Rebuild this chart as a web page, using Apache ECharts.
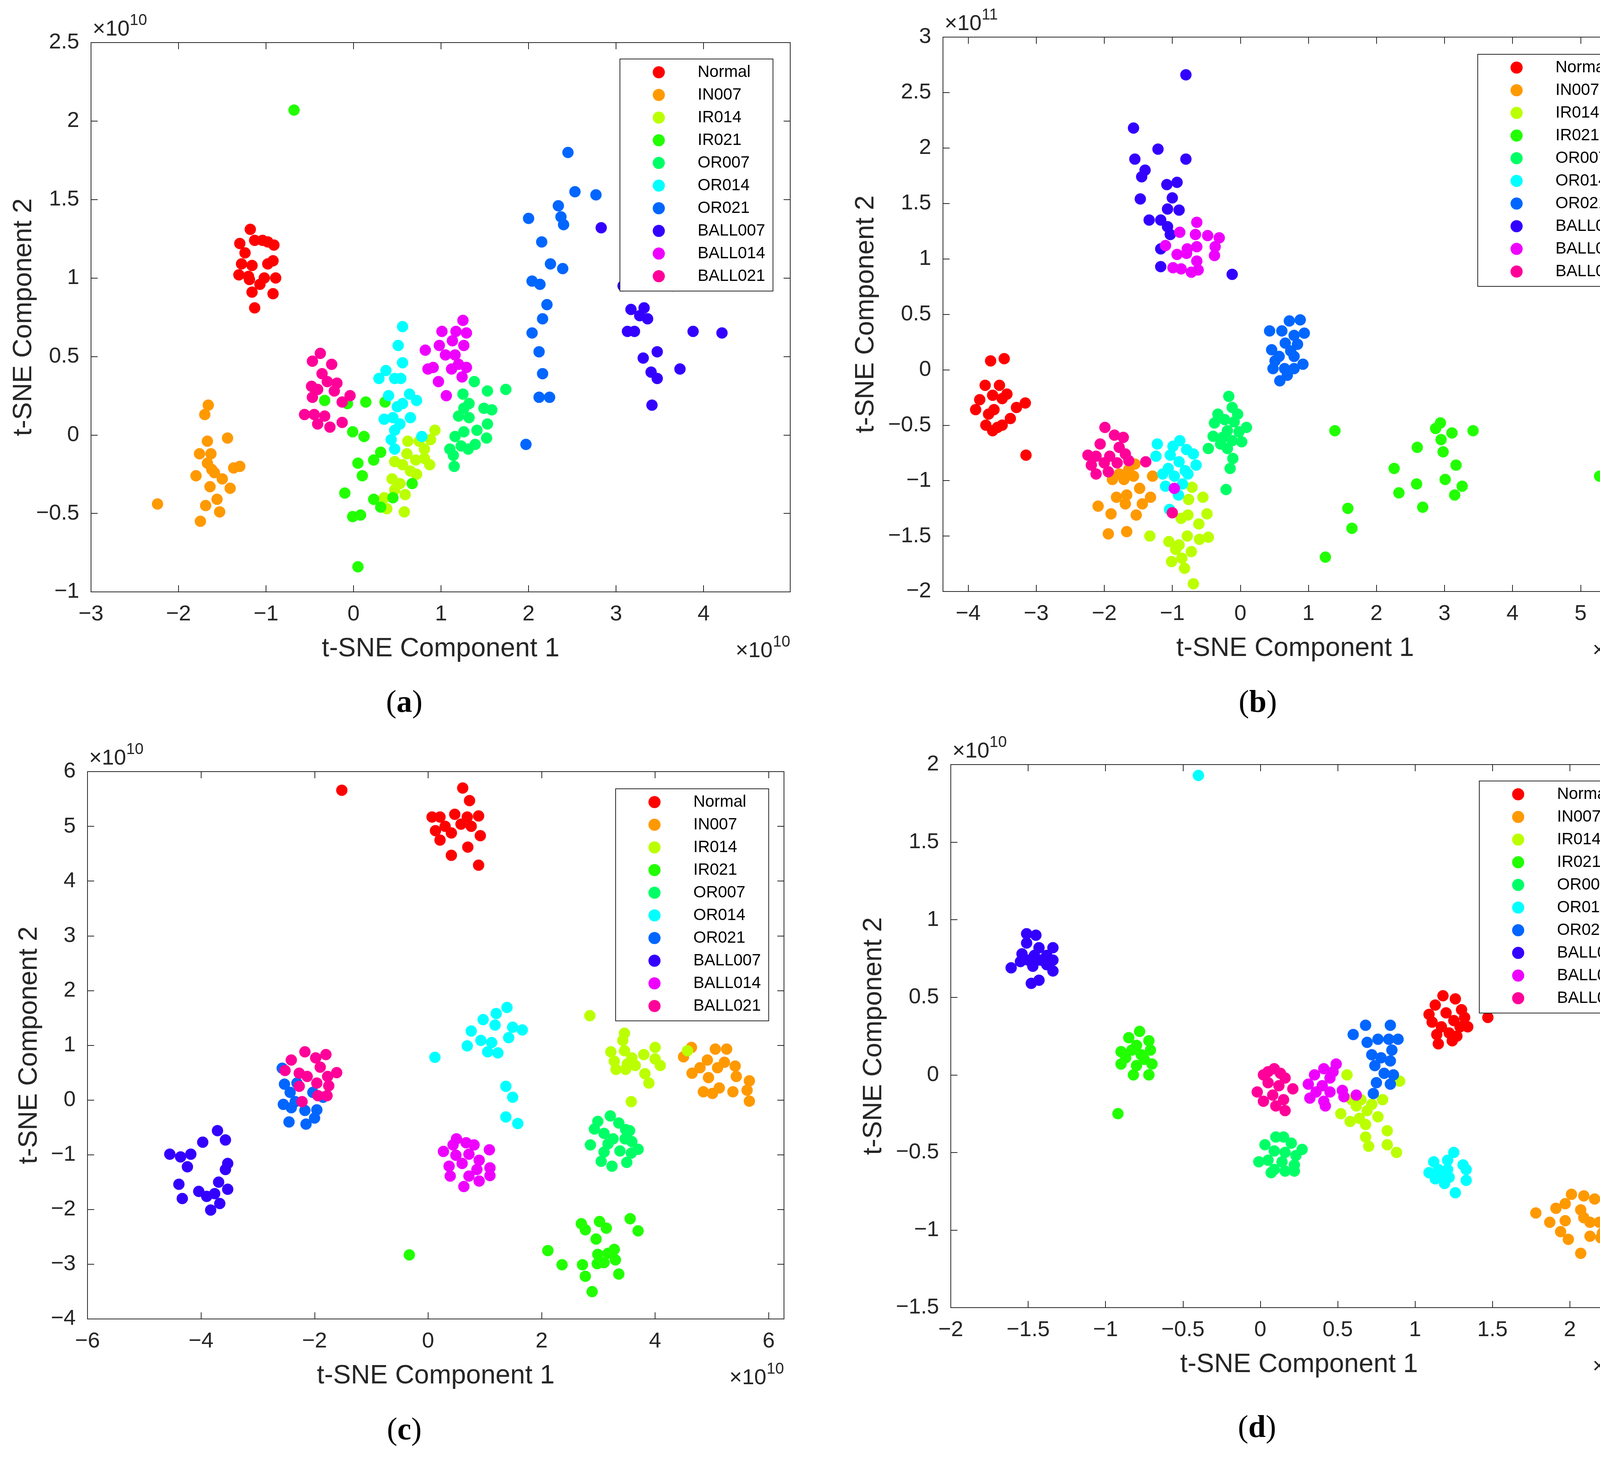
<!DOCTYPE html>
<html>
<head>
<meta charset="utf-8">
<script src="https://cdn.jsdelivr.net/npm/echarts@6/dist/echarts.min.js"></script>
<style>
  html, body { margin: 0; padding: 0; background: #fff; overflow: hidden; }
  #chart { width: 4244px; height: 3737px; }
</style>
</head>
<body>
<div id="chart"></div>
<script>
// classes and colours (same in every panel)
var classNames = ['Normal', 'IN007', 'IR014', 'IR021', 'OR007', 'OR014', 'OR021', 'BALL007', 'BALL014', 'BALL021'];
var classColors = ['#ff0000', '#ff9900', '#bbff00', '#22ff00', '#00ff66', '#00ffff', '#0066ff', '#3300ff', '#ee00ff', '#ff0099'];

// ---- panel (a), units of 1e10 ----
var aNormal = [[-1.18,1.31],[-1.30,1.22],[-1.24,1.16],[-1.13,1.24],[-1.04,1.24],[-0.91,1.21],[-1.28,1.09],[-1.16,1.08],[-0.98,1.09],[-0.92,1.11],[-1.31,1.02],[-1.19,0.99],[-1.02,1.00],[-0.89,1.00],[-1.07,0.96],[-1.16,0.91],[-0.92,0.90],[-1.13,0.81],[-1.20,1.01],[-0.98,1.23]];
var aIN007 = [[-2.24,-0.44],[-1.66,0.19],[-1.70,0.13],[-1.44,-0.02],[-1.67,-0.04],[-1.63,-0.12],[-1.76,-0.12],[-1.67,-0.18],[-1.30,-0.20],[-1.37,-0.21],[-1.80,-0.26],[-1.59,-0.24],[-1.50,-0.28],[-1.64,-0.33],[-1.41,-0.34],[-1.56,-0.41],[-1.69,-0.45],[-1.53,-0.49],[-1.75,-0.55],[-1.62,-0.22]];
var aIR014 = [[0.93,0.03],[0.88,-0.03],[0.75,-0.04],[0.81,-0.09],[0.61,-0.12],[0.47,-0.17],[0.56,-0.19],[0.65,-0.23],[0.72,-0.25],[0.81,-0.15],[0.87,-0.19],[0.44,-0.28],[0.53,-0.31],[0.47,-0.35],[0.59,-0.38],[0.38,-0.47],[0.58,-0.49],[0.35,-0.40],[0.71,-0.16],[0.62,-0.04]];
var aIR021 = [[-0.68,2.07],[-0.33,0.22],[-0.07,0.20],[0.14,0.21],[0.36,0.21],[-0.01,0.02],[0.12,-0.01],[0.05,-0.18],[0.23,-0.16],[0.31,-0.11],[0.10,-0.26],[-0.10,-0.37],[0.23,-0.41],[0.31,-0.46],[-0.01,-0.52],[0.08,-0.51],[0.05,-0.84],[0.45,-0.40],[0.67,-0.31]];
var aOR007 = [[1.38,0.34],[1.74,0.29],[1.53,0.28],[1.25,0.26],[1.32,0.20],[1.26,0.17],[1.49,0.17],[1.58,0.16],[1.20,0.12],[1.32,0.11],[1.53,0.07],[1.41,0.03],[1.26,0.02],[1.16,-0.01],[1.52,-0.02],[1.39,-0.06],[1.23,-0.07],[1.10,-0.09],[1.31,-0.09],[1.14,-0.13],[1.15,-0.20]];
var aOR014 = [[0.56,0.69],[0.51,0.57],[0.56,0.46],[0.29,0.36],[0.37,0.41],[0.47,0.36],[0.54,0.36],[0.40,0.25],[0.64,0.26],[0.72,0.22],[0.56,0.20],[0.50,0.18],[0.35,0.10],[0.45,0.11],[0.65,0.11],[0.53,0.07],[0.47,0.03],[0.43,-0.03],[0.47,-0.09],[0.78,-0.01]];
var aOR021 = [[2.45,1.80],[2.53,1.55],[2.77,1.53],[2.34,1.46],[2.37,1.39],[2.40,1.34],[2.00,1.38],[2.15,1.23],[2.25,1.09],[2.39,1.06],[2.04,0.98],[2.13,0.96],[2.21,0.83],[2.16,0.74],[2.04,0.65],[2.12,0.53],[2.16,0.39],[2.12,0.24],[2.24,0.24],[1.97,-0.06]];
var aBALL007 = [[2.83,1.32],[3.08,0.95],[3.65,0.95],[3.17,0.80],[3.32,0.81],[3.27,0.76],[3.36,0.74],[3.13,0.66],[3.21,0.66],[3.88,0.66],[4.21,0.65],[3.47,0.53],[3.31,0.49],[3.40,0.40],[3.47,0.36],[3.73,0.42],[3.41,0.19]];
var aBALL014 = [[1.25,0.73],[1.01,0.66],[1.17,0.66],[1.29,0.65],[0.98,0.57],[1.13,0.60],[1.26,0.57],[0.82,0.54],[1.05,0.51],[1.16,0.51],[1.29,0.43],[1.20,0.45],[0.91,0.43],[0.85,0.42],[1.12,0.42],[1.24,0.37],[0.97,0.34],[1.06,0.25]];
var aBALL021 = [[-0.38,0.52],[-0.47,0.47],[-0.25,0.45],[-0.36,0.39],[-0.48,0.31],[-0.30,0.34],[-0.19,0.33],[-0.41,0.29],[-0.22,0.28],[-0.47,0.24],[-0.13,0.21],[-0.04,0.25],[-0.56,0.13],[-0.45,0.13],[-0.33,0.12],[-0.41,0.07],[-0.13,0.08],[-0.27,0.05]];
var aXTicks = [-3, -2, -1, 0, 1, 2, 3, 4];
var aYTicks = [-1, -0.5, 0, 0.5, 1, 1.5, 2, 2.5];

// ---- panel (b), units of 1e11 ----
var bNormal = [[-3.67,0.08],[-3.47,0.10],[-3.75,-0.14],[-3.54,-0.14],[-3.83,-0.27],[-3.64,-0.23],[-3.43,-0.22],[-3.50,-0.26],[-3.89,-0.36],[-3.62,-0.36],[-3.29,-0.34],[-3.16,-0.30],[-3.70,-0.40],[-3.38,-0.44],[-3.74,-0.50],[-3.50,-0.50],[-3.64,-0.55],[-3.57,-0.52],[-3.15,-0.77]];
var bIN007 = [[-1.55,-0.85],[-1.64,-0.90],[-1.78,-0.94],[-1.88,-0.99],[-1.71,-0.99],[-1.29,-0.96],[-1.48,-1.07],[-1.67,-1.13],[-1.82,-1.15],[-1.32,-1.15],[-1.44,-1.21],[-1.69,-1.21],[-2.09,-1.23],[-1.90,-1.30],[-1.53,-1.31],[-1.94,-1.48],[-1.67,-1.46],[-1.57,-0.96]];
var bIR014 = [[-0.71,-1.06],[-0.55,-1.15],[-0.76,-1.17],[-0.49,-1.30],[-0.77,-1.31],[-0.87,-1.34],[-0.61,-1.39],[-1.33,-1.50],[-0.78,-1.50],[-0.47,-1.51],[-0.60,-1.53],[-1.05,-1.55],[-0.90,-1.58],[-0.72,-1.64],[-1.01,-1.73],[-0.86,-1.70],[-0.82,-1.79],[-0.69,-1.93],[-0.95,-1.62]];
var bIR021 = [[1.39,-0.55],[2.26,-0.89],[2.33,-1.11],[1.58,-1.25],[1.64,-1.43],[1.25,-1.69],[2.60,-0.70],[2.59,-1.03],[2.68,-1.24],[2.87,-0.53],[2.94,-0.48],[2.95,-0.63],[2.98,-0.74],[3.11,-0.57],[3.01,-0.99],[3.17,-0.86],[3.26,-1.05],[3.15,-1.13],[3.42,-0.55],[5.28,-0.96]];
var bOR007 = [[-0.17,-0.24],[-0.12,-0.34],[-0.33,-0.40],[-0.04,-0.40],[-0.23,-0.45],[-0.38,-0.48],[-0.09,-0.47],[0.09,-0.52],[-0.19,-0.55],[-0.02,-0.56],[-0.40,-0.60],[-0.26,-0.61],[-0.12,-0.64],[0.02,-0.65],[-0.47,-0.71],[-0.19,-0.71],[-0.11,-0.80],[-0.15,-0.89],[-0.21,-1.08],[-0.29,-0.67]];
var bOR014 = [[-1.22,-0.67],[-0.89,-0.64],[-0.99,-0.69],[-0.79,-0.72],[-1.03,-0.77],[-1.24,-0.78],[-0.69,-0.76],[-0.90,-0.83],[-0.65,-0.86],[-1.06,-0.89],[-0.81,-0.91],[-1.14,-0.94],[-0.97,-0.96],[-0.77,-0.94],[-1.10,-1.05],[-0.85,-1.03],[-0.91,-1.13],[-1.04,-1.26]];
var bOR021 = [[0.72,0.44],[0.88,0.45],[0.43,0.35],[0.61,0.35],[0.94,0.33],[0.79,0.31],[0.66,0.24],[0.84,0.23],[0.46,0.18],[0.74,0.17],[0.57,0.12],[0.79,0.12],[0.51,0.08],[0.92,0.05],[0.48,0.01],[0.65,0.01],[0.79,0.01],[0.69,-0.05],[0.58,-0.10]];
var bBALL007 = [[-0.80,2.66],[-1.57,2.18],[-1.55,1.90],[-1.21,1.99],[-0.80,1.90],[-1.40,1.80],[-1.45,1.74],[-1.08,1.67],[-0.93,1.69],[-1.00,1.55],[-1.47,1.54],[-1.07,1.45],[-0.90,1.44],[-1.34,1.35],[-1.17,1.35],[-1.07,1.29],[-1.03,1.22],[-1.17,1.09],[-1.17,0.93],[-0.12,0.86]];
var bBALL014 = [[-0.64,1.33],[-0.89,1.24],[-0.66,1.22],[-0.48,1.21],[-0.31,1.19],[-1.10,1.12],[-0.78,1.09],[-0.64,1.11],[-0.37,1.11],[-0.93,1.04],[-0.79,1.05],[-0.38,1.03],[-0.99,0.92],[-0.87,0.91],[-0.64,0.98],[-0.72,0.88],[-0.62,0.90],[-0.97,-1.07]];
var bBALL021 = [[-1.99,-0.52],[-1.85,-0.59],[-1.72,-0.61],[-2.06,-0.67],[-1.78,-0.70],[-2.24,-0.77],[-2.12,-0.78],[-1.92,-0.78],[-1.69,-0.76],[-2.19,-0.86],[-2.00,-0.84],[-1.81,-0.84],[-1.64,-0.82],[-1.39,-0.83],[-2.12,-0.94],[-1.94,-0.92],[-1.00,-1.29]];
var bXTicks = [-4, -3, -2, -1, 0, 1, 2, 3, 4, 5];
var bYTicks = [-2, -1.5, -1, -0.5, 0, 0.5, 1, 1.5, 2, 2.5, 3];

// ---- panel (c), units of 1e10 ----
var cNormal = [[-1.52,5.66],[0.61,5.70],[0.73,5.47],[0.07,5.17],[0.21,5.17],[0.47,5.22],[0.69,5.17],[0.89,5.19],[0.13,4.92],[0.30,5.00],[0.58,5.04],[0.76,5.00],[0.41,4.88],[0.92,4.83],[0.21,4.75],[0.41,4.47],[0.70,4.62],[0.89,4.29]];
var cIN007 = [[4.64,0.96],[4.50,0.79],[5.06,0.93],[5.26,0.93],[4.92,0.73],[5.22,0.69],[4.79,0.59],[5.10,0.59],[5.41,0.62],[4.65,0.49],[4.94,0.41],[5.43,0.43],[5.66,0.35],[5.13,0.22],[4.85,0.15],[5.01,0.12],[5.37,0.15],[5.62,0.18],[5.66,-0.02]];
var cIR014 = [[2.85,1.54],[3.46,1.22],[3.43,1.09],[3.22,0.88],[3.46,0.90],[4.00,0.96],[3.59,0.77],[3.80,0.83],[3.28,0.71],[3.51,0.66],[3.65,0.63],[4.00,0.75],[4.09,0.63],[3.31,0.56],[3.48,0.56],[3.82,0.48],[3.89,0.31],[3.58,-0.03],[4.57,0.90]];
var cIR021 = [[-0.33,-2.83],[2.11,-2.75],[2.36,-3.01],[2.70,-2.26],[2.77,-2.37],[3.02,-2.22],[3.14,-2.34],[3.56,-2.17],[3.70,-2.39],[2.96,-2.54],[2.99,-2.82],[3.17,-2.80],[3.28,-2.73],[2.72,-3.01],[2.98,-2.99],[3.10,-2.97],[3.30,-2.92],[2.77,-3.22],[3.36,-3.18],[2.89,-3.50]];
var cOR007 = [[3.21,-0.29],[2.99,-0.39],[3.36,-0.42],[2.93,-0.53],[3.10,-0.61],[3.48,-0.54],[3.55,-0.56],[3.26,-0.71],[3.47,-0.71],[2.86,-0.82],[3.17,-0.80],[3.59,-0.76],[3.70,-0.90],[3.10,-0.95],[3.38,-0.93],[3.58,-0.97],[3.05,-1.12],[3.24,-1.21],[3.50,-1.14]];
var cOR014 = [[1.39,1.69],[0.97,1.47],[1.20,1.58],[1.18,1.37],[1.49,1.33],[1.66,1.28],[0.76,1.26],[1.42,1.14],[0.93,1.09],[1.12,1.05],[0.69,0.99],[1.05,0.88],[1.23,0.86],[0.12,0.78],[1.37,0.25],[1.49,0.05],[1.37,-0.31],[1.58,-0.43]];
var cOR021 = [[-2.57,0.58],[-2.53,0.29],[-2.43,0.14],[-2.55,-0.08],[-2.34,-0.03],[-2.17,-0.19],[-1.96,-0.18],[-2.45,-0.40],[-2.15,-0.44],[-2.00,-0.33],[-2.31,0.31],[-2.03,0.14],[-1.85,0.05],[-2.41,-0.14]];
var cBALL007 = [[-3.71,-0.56],[-3.57,-0.73],[-3.97,-0.77],[-4.55,-0.99],[-4.36,-1.04],[-4.18,-0.99],[-4.24,-1.22],[-3.53,-1.16],[-3.57,-1.27],[-4.39,-1.54],[-3.69,-1.50],[-4.04,-1.67],[-3.90,-1.76],[-3.76,-1.71],[-3.53,-1.63],[-4.33,-1.80],[-3.67,-1.89],[-3.83,-2.01]];
var cBALL014 = [[0.50,-0.71],[0.27,-0.94],[0.44,-0.82],[0.67,-0.78],[0.81,-0.82],[1.08,-0.91],[0.49,-1.01],[0.72,-0.99],[0.90,-1.10],[0.37,-1.21],[0.60,-1.16],[1.09,-1.24],[0.39,-1.39],[0.72,-1.39],[0.90,-1.48],[1.09,-1.38],[0.63,-1.58],[0.86,-1.27]];
var cBALL021 = [[-2.17,0.88],[-1.80,0.83],[-2.41,0.73],[-1.98,0.77],[-2.52,0.54],[-2.27,0.49],[-1.90,0.60],[-1.61,0.50],[-2.13,0.43],[-1.77,0.43],[-2.27,0.25],[-1.96,0.31],[-1.75,0.26],[-1.94,0.08],[-1.78,0.08],[-2.22,-0.03]];
var cXTicks = [-6, -4, -2, 0, 2, 4, 6];
var cYTicks = [-4, -3, -2, -1, 0, 1, 2, 3, 4, 5, 6];

// ---- panel (d), units of 1e10 ----
var dNormal = [[1.18,0.51],[1.26,0.49],[1.13,0.45],[1.30,0.42],[1.09,0.39],[1.20,0.40],[1.47,0.37],[1.11,0.34],[1.25,0.35],[1.32,0.37],[1.17,0.31],[1.29,0.31],[1.34,0.31],[1.14,0.26],[1.22,0.27],[1.27,0.25],[1.15,0.20],[1.24,0.22]];
var dIN007 = [[2.01,-0.77],[2.09,-0.78],[2.16,-0.80],[1.97,-0.83],[1.91,-0.86],[2.07,-0.87],[1.78,-0.89],[2.09,-0.92],[1.97,-0.94],[1.87,-0.95],[2.13,-0.95],[2.19,-0.95],[1.94,-1.01],[2.21,-1.02],[2.13,-1.04],[1.99,-1.06],[2.20,-1.05],[2.07,-1.15]];
var dIR014 = [[0.56,0.00],[0.90,-0.04],[0.59,-0.16],[0.65,-0.16],[0.79,-0.16],[0.72,-0.19],[0.62,-0.20],[0.69,-0.23],[0.52,-0.25],[0.76,-0.27],[0.58,-0.30],[0.68,-0.32],[0.82,-0.36],[0.68,-0.40],[0.70,-0.46],[0.82,-0.45],[0.88,-0.50],[0.64,-0.28]];
var dIR021 = [[-0.78,0.28],[-0.85,0.24],[-0.72,0.22],[-0.80,0.19],[-0.90,0.15],[-0.83,0.16],[-0.71,0.16],[-0.77,0.13],[-0.87,0.11],[-0.75,0.10],[-0.90,0.07],[-0.70,0.07],[-0.80,0.06],[-0.82,0.00],[-0.72,0.00],[-0.92,-0.25]];
var dOR007 = [[0.10,-0.40],[0.15,-0.40],[0.03,-0.45],[0.20,-0.44],[0.27,-0.48],[0.09,-0.49],[0.16,-0.50],[0.23,-0.52],[-0.01,-0.56],[0.05,-0.55],[0.14,-0.56],[0.22,-0.58],[0.09,-0.61],[0.16,-0.62],[0.22,-0.62],[0.07,-0.63]];
var dOR014 = [[-0.40,1.93],[1.25,-0.50],[1.12,-0.56],[1.21,-0.55],[1.31,-0.58],[1.33,-0.61],[1.09,-0.63],[1.15,-0.61],[1.21,-0.61],[1.16,-0.65],[1.22,-0.66],[1.33,-0.68],[1.19,-0.70],[1.26,-0.76],[1.13,-0.67]];
var dOR021 = [[0.68,0.32],[0.84,0.32],[0.60,0.26],[0.76,0.23],[0.69,0.21],[0.83,0.23],[0.89,0.23],[0.85,0.16],[0.72,0.13],[0.78,0.11],[0.84,0.09],[0.74,0.06],[0.80,0.01],[0.86,0.00],[0.75,-0.05],[0.84,-0.06],[0.73,-0.12]];
var dBALL007 = [[-1.51,0.91],[-1.45,0.90],[-1.51,0.85],[-1.43,0.82],[-1.34,0.82],[-1.54,0.78],[-1.46,0.77],[-1.38,0.77],[-1.61,0.69],[-1.50,0.74],[-1.42,0.74],[-1.34,0.74],[-1.55,0.73],[-1.47,0.70],[-1.34,0.67],[-1.48,0.59],[-1.43,0.61],[-1.38,0.71]];
var dBALL014 = [[0.49,0.07],[0.41,0.04],[0.35,0.00],[0.45,-0.02],[0.31,-0.06],[0.40,-0.07],[0.53,-0.10],[0.36,-0.11],[0.45,-0.11],[0.32,-0.15],[0.41,-0.17],[0.54,-0.14],[0.62,-0.13],[0.42,-0.20],[0.47,0.02]];
var dBALL021 = [[0.09,0.04],[0.02,0.00],[0.16,-0.02],[0.05,-0.05],[0.12,-0.07],[0.21,-0.09],[-0.02,-0.11],[0.08,-0.13],[0.15,-0.16],[0.02,-0.17],[0.10,-0.20],[0.16,-0.23],[0.05,0.02],[0.13,0.01]];
var dXTicks = [-2, -1.5, -1, -0.5, 0, 0.5, 1, 1.5, 2];
var dYTicks = [-1.5, -1, -0.5, 0, 0.5, 1, 1.5, 2];

// layout of the four panels (pixels on the 4244x3737 page)
var panels = [
  { tag: 'a', exp: '10', data: [aNormal, aIN007, aIR014, aIR021, aOR007, aOR014, aOR021, aBALL007, aBALL014, aBALL021],
    box: { left: 233, top: 109, width: 1790, height: 1406 },
    xMin: -3, xMax: 4.99, xTicks: aXTicks, yMin: -1, yMax: 2.5, yTicks: aYTicks,
    yTitleOff: 172, tagPos: [1035, 1801], legendPos: [1587, 151] },
  { tag: 'b', exp: '11', data: [bNormal, bIN007, bIR014, bIR021, bOR007, bOR014, bOR021, bBALL007, bBALL014, bBALL021],
    box: { left: 2414, top: 95, width: 1803, height: 1419 },
    xMin: -4.37, xMax: 5.98, xTicks: bXTicks, yMin: -2, yMax: 3, yTicks: bYTicks,
    yTitleOff: 197, tagPos: [3220, 1801], legendPos: [3783, 139] },
  { tag: 'c', exp: '10', data: [cNormal, cIN007, cIR014, cIR021, cOR007, cOR014, cOR021, cBALL007, cBALL014, cBALL021],
    box: { left: 224, top: 1975, width: 1783, height: 1401 },
    xMin: -6, xMax: 6.27, xTicks: cXTicks, yMin: -4, yMax: 6, yTicks: cYTicks,
    yTitleOff: 149, tagPos: [1035, 3663], legendPos: [1576, 2019] },
  { tag: 'd', exp: '10', data: [dNormal, dIN007, dIR014, dIR021, dOR007, dOR014, dOR021, dBALL007, dBALL014, dBALL021],
    box: { left: 2434, top: 1957, width: 1783, height: 1390 },
    xMin: -2, xMax: 2.5, xTicks: dXTicks, yMin: -1.5, yMax: 2, yTicks: dYTicks,
    yTitleOff: 197, tagPos: [3218, 3657], legendPos: [3787, 1999] }
];

var SANS = 'Liberation Sans, Arial, sans-serif';
var SERIF = 'Liberation Serif, Times New Roman, serif';
var INK = '#262626';

function fmtTick(v) {
  return String(+v.toFixed(2)).replace('-', '\u2212');
}

function axisBase(extra) {
  var a = {
    type: 'value',
    axisLine: { show: true, onZero: false, lineStyle: { color: INK, width: 2 } },
    axisTick: { show: true, inside: true, length: 17, lineStyle: { color: INK, width: 2 } },
    axisLabel: { show: false },
    splitLine: { show: false }
  };
  return Object.assign(a, extra);
}

var grids = [], xAxes = [], yAxes = [], series = [], legends = [], graphics = [];

panels.forEach(function (p, i) {
  grids.push({ left: p.box.left, top: p.box.top, width: p.box.width, height: p.box.height,
    outerBoundsMode: 'none', containLabel: false });

  var lbl = function (ticks) {
    return { show: true, margin: 30, customValues: ticks, formatter: fmtTick,
      fontFamily: SANS, fontSize: 56, color: INK };
  };
  var tk = function (ticks) {
    return { show: true, inside: true, length: 17, customValues: ticks, lineStyle: { color: INK, width: 2 } };
  };

  // bottom + top x axes, left + right y axes (MATLAB box)
  xAxes.push(axisBase({ gridIndex: i, position: 'bottom', min: p.xMin, max: p.xMax, axisTick: tk(p.xTicks), axisLabel: lbl(p.xTicks) }));
  xAxes.push(axisBase({ gridIndex: i, position: 'top', min: p.xMin, max: p.xMax, axisTick: tk(p.xTicks) }));
  yAxes.push(axisBase({ gridIndex: i, position: 'left', min: p.yMin, max: p.yMax, axisTick: tk(p.yTicks), axisLabel: lbl(p.yTicks) }));
  yAxes.push(axisBase({ gridIndex: i, position: 'right', min: p.yMin, max: p.yMax, axisTick: tk(p.yTicks) }));

  p.data.forEach(function (pts, k) {
    series.push({
      type: 'scatter',
      name: classNames[k],
      xAxisIndex: 2 * i,
      yAxisIndex: 2 * i,
      data: pts,
      symbol: 'circle',
      symbolSize: 29,
      itemStyle: { color: classColors[k], opacity: 1 },
      emphasis: { disabled: true },
      silent: true
    });
  });

  // icon 31px, then a fixed gap token before the name
  legends.push({
    left: p.legendPos[0], top: p.legendPos[1],
    orient: 'vertical',
    data: classNames,
    icon: 'circle',
    itemWidth: 31, itemHeight: 31, itemGap: 16,
    padding: [13, 20, 17, 84],
    borderColor: INK, borderWidth: 2, borderRadius: 0,
    backgroundColor: '#fff',
    selectedMode: false,
    formatter: function (name) { return '{g| }' + name; },
    textStyle: { fontFamily: SANS, fontSize: 42, color: '#000',
      rich: { g: { width: 79, fontSize: 42 } } },
    z: 20
  });

  var b = p.box;
  var right = b.left + b.width, bottom = b.top + b.height;
  // axis titles
  graphics.push({ type: 'text', x: b.left + b.width / 2, y: bottom + 146, z: 30,
    style: { text: 't-SNE Component 1', fontFamily: SANS, fontSize: 68, fill: INK, align: 'center', verticalAlign: 'middle' } });
  graphics.push({ type: 'text', x: b.left - p.yTitleOff, y: b.top + b.height / 2, rotation: Math.PI / 2, z: 30,
    style: { text: 't-SNE Component 2', fontFamily: SANS, fontSize: 68, fill: INK, align: 'center', verticalAlign: 'middle' } });
  // exponent labels
  graphics.push({ type: 'text', x: b.left + 4, y: b.top - 33, z: 30,
    style: { text: '\u00d710', fontFamily: SANS, fontSize: 56, fill: INK, align: 'left', verticalAlign: 'middle' } });
  graphics.push({ type: 'text', x: b.left + 99, y: b.top - 56, z: 30,
    style: { text: p.exp, fontFamily: SANS, fontSize: 40, fill: INK, align: 'left', verticalAlign: 'middle' } });
  graphics.push({ type: 'text', x: right - 45, y: bottom + 152, z: 30,
    style: { text: '\u00d710', fontFamily: SANS, fontSize: 56, fill: INK, align: 'right', verticalAlign: 'middle' } });
  graphics.push({ type: 'text', x: right, y: bottom + 129, z: 30,
    style: { text: p.exp, fontFamily: SANS, fontSize: 40, fill: INK, align: 'right', verticalAlign: 'middle' } });
  // panel tag
  graphics.push({ type: 'text', x: p.tagPos[0], y: p.tagPos[1], z: 30,
    style: { text: '{p|(}{l|' + p.tag + '}{p|)}', align: 'center', verticalAlign: 'middle', fill: '#000',
      rich: { p: { fontFamily: SERIF, fontSize: 80, fill: '#000' },
              l: { fontFamily: SERIF, fontSize: 80, fontWeight: 'bold', fill: '#000' } } } });
});

var chart = echarts.init(document.getElementById('chart'), null, { renderer: 'canvas' });
chart.setOption({
  animation: false,
  backgroundColor: '#ffffff',
  grid: grids,
  xAxis: xAxes,
  yAxis: yAxes,
  legend: legends,
  series: series,
  graphic: graphics
});
</script>
</body>
</html>
